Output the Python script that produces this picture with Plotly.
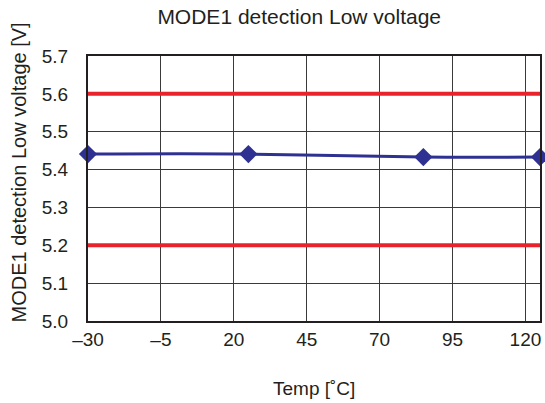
import plotly.graph_objects as go

temps = [-30, 25, 85, 125]
voltage = [5.441, 5.441, 5.433, 5.433]
limit_x = [-30, 125]
upper_limit = [5.6, 5.6]
lower_limit = [5.2, 5.2]
x_ticks = [-30, -5, 20, 45, 70, 95, 120]
x_tick_labels = ["\u201330", "\u20135", "20", "45", "70", "95", "120"]
y_ticks = [5.0, 5.1, 5.2, 5.3, 5.4, 5.5, 5.6, 5.7]
y_tick_labels = ["5.0", "5.1", "5.2", "5.3", "5.4", "5.5", "5.6", "5.7"]

FONT = "Liberation Sans, Arial, sans-serif"
TXT = "#231f20"

fig = go.Figure()
for lim in (upper_limit, lower_limit):
    fig.add_trace(go.Scatter(x=limit_x, y=lim, mode="lines",
                             line=dict(color="#e8232b", width=4),
                             showlegend=False, hoverinfo="skip"))
fig.add_trace(go.Scatter(x=temps, y=voltage, mode="lines+markers",
                         line=dict(color="#2e3192", width=3, shape="spline", smoothing=1),
                         marker=dict(symbol="diamond", size=14, color="#2e3192"),
                         cliponaxis=False, showlegend=False))

fig.update_layout(
    width=545, height=403,
    margin=dict(l=88, r=5, t=56, b=82, autoexpand=False),
    paper_bgcolor="white", plot_bgcolor="white",
    font=dict(family=FONT, color=TXT, size=19),
    title=dict(text="MODE1 detection Low voltage", xref="container", x=0.549, xanchor="center",
               yref="container", y=1 - 17 / 403, yanchor="middle",
               font=dict(size=21, family=FONT, color=TXT)),
    annotations=[
        dict(text="MODE1 detection Low voltage [V]", textangle=-90, showarrow=False,
             xref="paper", yref="paper", x=(18.5 - 88) / 452, y=(321 - 173) / 265,
             xanchor="center", yanchor="middle", font=dict(size=20, family=FONT, color=TXT)),
        dict(text="Temp [\u02daC]", showarrow=False,
             xref="paper", yref="paper", x=0.5, y=(321 - 388) / 265,
             xanchor="center", yanchor="middle", font=dict(size=19, family=FONT, color=TXT)),
    ],
)
fig.update_xaxes(range=[-30, 125], tickvals=x_ticks, ticktext=x_tick_labels,
                 showgrid=True, gridcolor="#3a3a3a", gridwidth=1,
                 showline=True, linecolor="#231f20", linewidth=2, mirror=True,
                 ticks="", zeroline=False, tickfont=dict(size=19), ticklabelstandoff=0,
                 automargin=False)
fig.update_yaxes(range=[5.0, 5.7], tickvals=y_ticks, ticktext=y_tick_labels,
                 showgrid=True, gridcolor="#3a3a3a", gridwidth=1,
                 showline=True, linecolor="#231f20", linewidth=2, mirror=True,
                 ticks="", zeroline=False, tickfont=dict(size=19), ticklabelstandoff=14,
                 automargin=False)

fig.write_html("out.html", config={"displayModeBar": False},
               post_script="document.body.style.margin='0px';document.body.style.overflow='hidden';")
